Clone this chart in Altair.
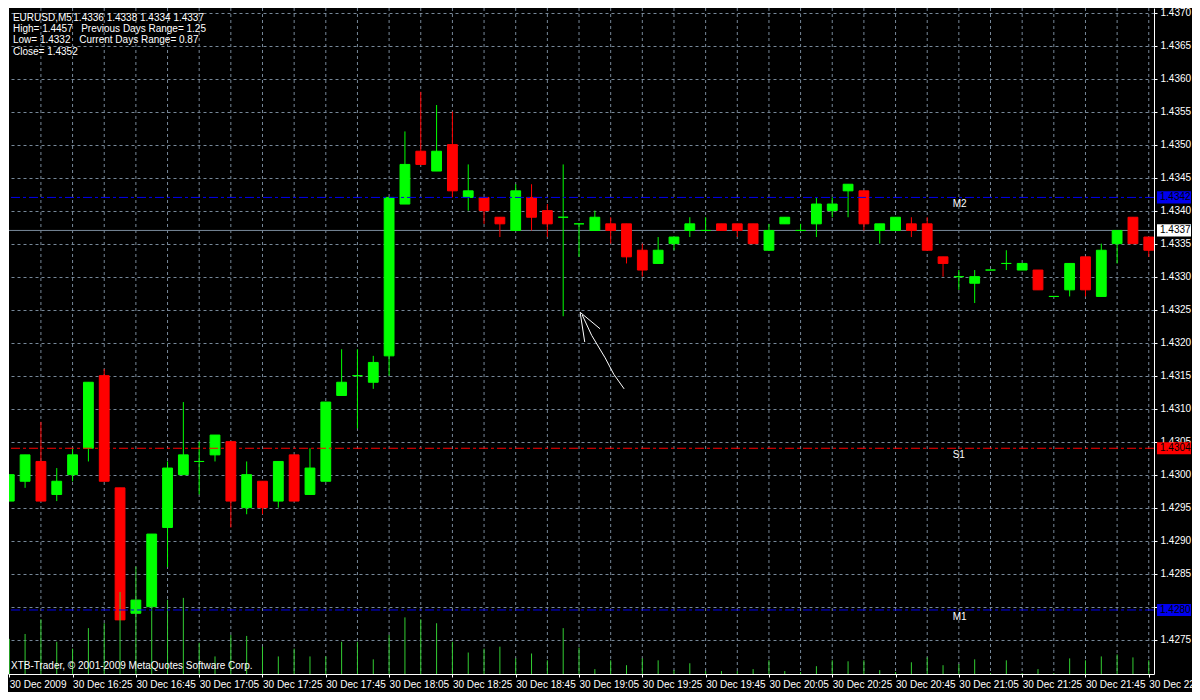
import json
import altair as alt
import pandas as pd

# ---------------- data ----------------
bar_index = list(range(73))
open_ = [1.4296, 1.4299, 1.4302, 1.4297, 1.4300, 1.4304, 1.4315, 1.4298, 1.4279, 1.4280,
         1.4292, 1.4300, 1.4302, 1.4303, 1.4305, 1.4295, 1.4299, 1.4296, 1.4303, 1.4297,
         1.4299, 1.4312, 1.4315, 1.4314, 1.4318, 1.4341, 1.4349, 1.4346, 1.4350, 1.4342,
         1.4342, 1.4339, 1.4337, 1.4342, 1.4340, 1.4339, 1.4338, 1.4337, 1.4338, 1.4338,
         1.4334, 1.4332, 1.4335, 1.4337, 1.4337, 1.4338, 1.4338, 1.4338, 1.4334, 1.4338,
         1.4337, 1.4338, 1.4340, 1.4343, 1.4343, 1.4337, 1.4337, 1.4338, 1.4338, 1.4333,
         1.4330, 1.4329, 1.4331, 1.4332, 1.4331, 1.4331, 1.4327, 1.4328, 1.4333, 1.4327,
         1.4335, 1.4339, 1.4336]
high = [1.4300, 1.4303, 1.4308, 1.4301, 1.4304, 1.4314, 1.4316, 1.4298, 1.4281, 1.4291,
        1.4302, 1.4311, 1.4305, 1.4306, 1.4305, 1.4302, 1.4299, 1.4302, 1.4303, 1.4304,
        1.4311, 1.4319, 1.4319, 1.4318, 1.4342, 1.4352, 1.4358, 1.4356, 1.4355, 1.4347,
        1.4342, 1.4339, 1.4344, 1.4344, 1.4341, 1.4347, 1.4338, 1.4340, 1.4339, 1.4338,
        1.4335, 1.4336, 1.4336, 1.4339, 1.4339, 1.4338, 1.4338, 1.4338, 1.4338, 1.4339,
        1.4338, 1.4342, 1.4342, 1.4344, 1.4343, 1.4338, 1.4339, 1.4339, 1.4339, 1.4333,
        1.4331, 1.4331, 1.4331, 1.4334, 1.4332, 1.4331, 1.4327, 1.4332, 1.4333, 1.4335,
        1.4337, 1.4339, 1.4336]
low = [1.4296, 1.4298, 1.4296, 1.4296, 1.4299, 1.4302, 1.4299, 1.4278, 1.4279, 1.4280,
       1.4286, 1.4300, 1.4297, 1.4302, 1.4292, 1.4294, 1.4294, 1.4295, 1.4296, 1.4297,
       1.4299, 1.4312, 1.4307, 1.4313, 1.4315, 1.4341, 1.4347, 1.4346, 1.4342, 1.4340,
       1.4338, 1.4336, 1.4337, 1.4337, 1.4336, 1.4324, 1.4333, 1.4337, 1.4335, 1.4332,
       1.4330, 1.4332, 1.4334, 1.4336, 1.4337, 1.4337, 1.4336, 1.4335, 1.4334, 1.4338,
       1.4337, 1.4336, 1.4339, 1.4339, 1.4337, 1.4335, 1.4337, 1.4336, 1.4334, 1.4330,
       1.4328, 1.4326, 1.4331, 1.4331, 1.4331, 1.4328, 1.4327, 1.4327, 1.4327, 1.4327,
       1.4332, 1.4335, 1.4333]
close = [1.4300, 1.4303, 1.4296, 1.4299, 1.4303, 1.4314, 1.4299, 1.4278, 1.4281, 1.4291,
         1.4301, 1.4303, 1.4302, 1.4306, 1.4296, 1.4300, 1.4295, 1.4302, 1.4296, 1.4301,
         1.4311, 1.4314, 1.4315, 1.4317, 1.4342, 1.4347, 1.4347, 1.4349, 1.4343, 1.4343,
         1.4340, 1.4338, 1.4343, 1.4339, 1.4338, 1.4339, 1.4338, 1.4339, 1.4337, 1.4333,
         1.4331, 1.4334, 1.4336, 1.4338, 1.4337, 1.4337, 1.4337, 1.4335, 1.4337, 1.4339,
         1.4337, 1.4341, 1.4341, 1.4344, 1.4338, 1.4338, 1.4339, 1.4337, 1.4334, 1.4332,
         1.4330, 1.4330, 1.4331, 1.4332, 1.4332, 1.4328, 1.4327, 1.4332, 1.4328, 1.4334,
         1.4337, 1.4335, 1.4334]
tick_volume = [36, 41, 56, 33, 26, 47, 52, 84, 110, 70, 76, 78, 32, 18, 40, 39, 28, 18, 26, 18,
               18, 33, 33, 15, 40, 58, 56, 52, 33, 22, 26, 28, 16, 21, 14, 47, 27, 5, 14, 9,
               16, 14, 4, 11, 3, 3, 3, 5, 14, 3, 2, 8, 14, 13, 14, 4, 2, 12, 17, 9,
               10, 15, 1, 14, 1, 5, 1, 16, 14, 18, 20, 17, 14]

time_tick_bars = list(range(0, 73, 4))
time_tick_labels = ["30 Dec 2009", "30 Dec 16:25", "30 Dec 16:45", "30 Dec 17:05",
                    "30 Dec 17:25", "30 Dec 17:45", "30 Dec 18:05", "30 Dec 18:25",
                    "30 Dec 18:45", "30 Dec 19:05", "30 Dec 19:25", "30 Dec 19:45",
                    "30 Dec 20:05", "30 Dec 20:25", "30 Dec 20:45", "30 Dec 21:05",
                    "30 Dec 21:25", "30 Dec 21:45", "30 Dec 22:05"]
grid_bars = list(range(2, 73, 2))
price_ticks = [round(1.4275 + 0.0005 * k, 4) for k in range(20)]
hidden_price_label = 1.428   # covered by the M1 price box

level_names = ["M2", "S1", "M1"]
level_prices = [1.4342, 1.4304, 1.42795]
level_texts = ["1.4342", "1.4304", "1.4280"]
level_colors = ["#0000ee", "#ff0000", "#0000ee"]
bid_price = 1.4337
bid_text = "1.4337"

header_texts = ["EURUSD,M5", "1.4336 1.4338 1.4334 1.4337", "High= 1.4457",
                "Previous Days Range= 1.25", "Low= 1.4332", "Current Days Range= 0.87",
                "Close= 1.4352"]
footer_text = "XTB-Trader, \u00a9 2001-2009 MetaQuotes Software Corp."

# hand-drawn arrow (bar index, price)
arrow_stroke = [0, 0, 1, 1, 2, 2, 2, 2, 2]
arrow_bar = [36.07, 36.36, 36.07, 37.33, 36.2, 36.8, 37.65, 38.2, 38.85]
arrow_price = [1.43246, 1.43201, 1.43246, 1.43221, 1.43242, 1.43211, 1.43177, 1.43152, 1.43130]

# ---------------- layout / style ----------------
W, H = 1146, 666
PAD_R, PAD_B = 38, 18
X_MIN, X_MAX = -0.08, 72.33
Y_MIN, Y_MAX = 1.42698, 1.43707
FONT = "Liberation Sans"
FS = 10
GRID = "#778899"


def px(xr):
    return (xr - 2) * W / 1158.5


def py(yr):
    return yr * H / 682.3


XS = alt.Scale(domain=[X_MIN, X_MAX], nice=False, zero=False)
YS = alt.Scale(domain=[Y_MIN, Y_MAX], nice=False, zero=False)

label_expr = json.dumps(time_tick_labels) + "[round(datum.value / 4)]"
y_label_expr = ("abs(datum.value - %s) < 0.00001 ? '' : format(datum.value, '.4f')"
                % hidden_price_label)
X_AXIS = alt.Axis(values=time_tick_bars, labelExpr=label_expr, labelAlign="left",
                  labelBaseline="top", labelColor="white", labelFont=FONT, labelFontSize=FS,
                  labelPadding=2, tickColor="white", tickSize=3, domainColor="white",
                  grid=False, labelFlush=False, labelOverlap=False, labelBound=False,
                  title=None, zindex=0)
Y_AXIS = alt.Axis(orient="right", values=price_ticks, labelExpr=y_label_expr,
                  labelColor="white",
                  labelFont=FONT, labelFontSize=FS, labelPadding=3, tickColor="white",
                  tickSize=3, domainColor="white", gridColor=GRID, gridDash=[3, 3],
                  gridWidth=1, labelFlush=False, labelOverlap=False, labelBound=False,
                  title=None, zindex=0)

df = pd.DataFrame({"i": bar_index, "o": open_, "h": high, "l": low, "c": close,
                   "v": tick_volume})
df["dir"] = ["up" if c >= o else "down" for o, c in zip(df.o, df.c)]
df["bot"] = df[["o", "c"]].min(axis=1)
df["top"] = df[["o", "c"]].max(axis=1)
df["x0"] = df.i - 0.31
df["x1"] = df.i + 0.31

col_scale = alt.Scale(domain=["up", "down"], range=["#00ff00", "#ff0000"])

# ---------------- layer A: grid, bid line, candles ----------------
vgrid = alt.Chart(pd.DataFrame({"g": grid_bars})).mark_rule(
    color=GRID, strokeDash=[3, 3], strokeWidth=1).encode(
    x=alt.X("g:Q", scale=XS, axis=X_AXIS))

bid_line = alt.Chart(pd.DataFrame({"p": [bid_price]})).mark_rule(
    color=GRID, strokeWidth=1).encode(y=alt.Y("p:Q", scale=YS, axis=Y_AXIS))

wicks = alt.Chart(df).mark_rule(strokeWidth=1, clip=True).encode(
    x=alt.X("i:Q", scale=XS, axis=X_AXIS),
    y=alt.Y("l:Q", scale=YS, axis=Y_AXIS),
    y2="h:Q",
    color=alt.Color("dir:N", scale=col_scale, legend=None))

bodies = alt.Chart(df).mark_rect(strokeWidth=1, clip=True).encode(
    x=alt.X("x0:Q", scale=XS, axis=X_AXIS),
    x2="x1:Q",
    y=alt.Y("bot:Q", scale=YS, axis=Y_AXIS),
    y2="top:Q",
    fill=alt.Fill("dir:N", scale=col_scale, legend=None),
    stroke=alt.Stroke("dir:N", scale=col_scale, legend=None))

left_border = alt.Chart(pd.DataFrame({"a": [0]})).mark_rule(
    color="white", strokeWidth=1).encode(x=alt.value(0.5))

layer_a = alt.layer(vgrid, bid_line, wicks, bodies)

# ---------------- layer B: volumes ----------------
volumes = alt.Chart(df).mark_rule(color="#32cd32", strokeWidth=1).encode(
    x=alt.X("i:Q", scale=XS, axis=X_AXIS),
    y=alt.Y("v:Q", scale=alt.Scale(domain=[0, 682.3], nice=False), axis=None),
    y2=alt.datum(0))

# ---------------- layer C: objects & annotations ----------------
lv = pd.DataFrame({"name": level_names, "p": level_prices, "t": level_texts,
                   "col": level_colors})
lv["lo"] = lv.p - 0.000092
lv["hi"] = lv.p + 0.000092
YN = dict(scale=YS, axis=None)

level_lines = alt.Chart(lv).mark_rule(strokeWidth=1, strokeDash=[9, 3, 3, 3]).encode(
    y=alt.Y("p:Q", **YN), color=alt.Color("col:N", scale=None))
level_names_txt = alt.Chart(lv).mark_text(
    align="left", baseline="top", dy=2, color="white", font=FONT, fontSize=FS).encode(
    x=alt.value(px(957)), y=alt.Y("p:Q", **YN), text="name:N")
level_boxes = alt.Chart(lv).mark_rect(clip=False).encode(
    x=alt.value(W + 3), x2=alt.value(W + 37),
    y=alt.Y("lo:Q", **YN), y2="hi:Q", color=alt.Color("col:N", scale=None))
level_box_txt = alt.Chart(lv).mark_text(
    align="left", baseline="middle", color="black", font=FONT, fontSize=FS,
    clip=False).encode(x=alt.value(W + 6), y=alt.Y("p:Q", **YN), text="t:N")

bid = pd.DataFrame({"p": [bid_price], "t": [bid_text]})
bid["lo"] = bid.p - 0.000092
bid["hi"] = bid.p + 0.000092
bid_box = alt.Chart(bid).mark_rect(color="white", clip=False).encode(
    x=alt.value(W + 3), x2=alt.value(W + 37), y=alt.Y("lo:Q", **YN), y2="hi:Q")
bid_box_txt = alt.Chart(bid).mark_text(
    align="left", baseline="middle", color="black", font=FONT, fontSize=FS,
    clip=False).encode(x=alt.value(W + 6), y=alt.Y("p:Q", **YN), text="t:N")

arrow_df = pd.DataFrame({"s": arrow_stroke, "b": arrow_bar, "p": arrow_price,
                         "k": list(range(len(arrow_bar)))})
arrow = alt.Chart(arrow_df).mark_line(color="white", strokeWidth=1).encode(
    x=alt.X("b:Q", scale=XS, axis=X_AXIS), y=alt.Y("p:Q", **YN),
    detail="s:N", order="k:Q")

header_pos = [(7, 10), (68, 10), (7, 21.5), (76, 21.5), (7, 33), (74, 33), (7, 45)]
text_layers = []
for t, (xr, yr) in zip(header_texts + [footer_text], header_pos + [(5, 674)]):
    text_layers.append(
        alt.Chart(pd.DataFrame({"t": [t]})).mark_text(
            align="left", baseline="middle", color="white", font=FONT, fontSize=FS).encode(
            x=alt.value(px(xr)), y=alt.value(py(yr)), text="t:N"))

layer_c = alt.layer(level_lines, level_names_txt, arrow, level_boxes, level_box_txt,
                    bid_box, bid_box_txt, left_border, *text_layers)

chart = alt.layer(layer_a, volumes, layer_c).resolve_scale(y="independent").properties(
    width=W, height=H,
    padding={"left": 0, "top": 0, "right": PAD_R, "bottom": PAD_B},
    autosize=alt.AutoSizeParams(type="none"),
    background="#000000",
).configure_view(stroke=None)

chart.save("out.html", embed_options={"renderer": "svg", "actions": False})
